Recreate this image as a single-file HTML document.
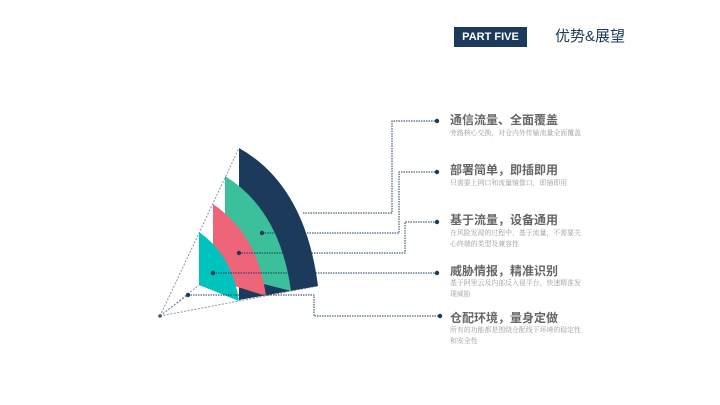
<!DOCTYPE html>
<html><head><meta charset="utf-8"><style>
body{margin:0;width:720px;height:405px;background:#fff;overflow:hidden;position:relative;font-family:"Liberation Sans","Noto Sans CJK SC",sans-serif}
.hd{position:absolute;left:454px;top:27px;width:73px;height:20px;background:#1b3a5c;color:#fff;font-size:11px;font-weight:bold;line-height:20px;text-align:center}
.h2{position:absolute;left:555px;top:27px;font-size:15px;color:#1b3a5c;line-height:20px}
.t{position:absolute;left:450px;font-size:12px;font-weight:bold;color:#666;line-height:14px;white-space:nowrap}
.d{position:absolute;left:450px;font-size:6.9px;color:#999;line-height:10.5px;width:133px;font-family:"Liberation Serif","Noto Serif CJK SC",serif}
</style></head><body>
<div class="hd">PART FIVE</div>
<div class="h2">优势&amp;展望</div>
<svg width="720" height="405" style="position:absolute;left:0;top:0">
<g stroke="#8a96a3" stroke-width="1" stroke-dasharray="2,1.5" fill="none">
<line x1="160" y1="316" x2="239" y2="148"/>
<line x1="160" y1="316" x2="318" y2="286"/>
<line x1="160" y1="316" x2="199" y2="285"/>
<line x1="160" y1="316" x2="188" y2="295"/>
</g>
<path d="M239,148 Q305,185 318,286 L239,300 Z" fill="#1b3a5c"/>
<path d="M225,176 Q280,210 291,291 L225,274 Z" fill="#3cbf9b"/>
<path d="M213,204 Q258,235 266,296 L213,279 Z" fill="#ee6479"/>
<path d="M199,232 Q232,255 239,301 L199,285 Z" fill="#00c3bd"/>
<g stroke="#1b3a5c" stroke-width="1" stroke-dasharray="1.5,1" fill="none">
<polyline points="303,213 392,213 392,121 437,121"/>
<polyline points="262,233 399,233 399,172 437,172"/>
<polyline points="239,253 405,253 405,222 437,222"/>
<polyline points="213,273 437,273"/>
<polyline points="188,295 314,295 314,316 440,316"/>
</g>
<g fill="#1b3a5c">
<circle cx="437" cy="121" r="2.2"/><circle cx="437" cy="172" r="2.2"/><circle cx="437" cy="222" r="2.2"/><circle cx="437" cy="273" r="2.2"/><circle cx="440" cy="316" r="2.2"/>
<circle cx="262" cy="233" r="2.2"/><circle cx="239" cy="253" r="2.2"/><circle cx="213" cy="273" r="2.2"/><circle cx="188" cy="295" r="2.2"/>
<circle cx="160" cy="316" r="1.8" fill="#555"/>
</g>
</svg>
<div class="t" style="top:113px">通信流量、全面覆盖</div>
<div class="d" style="top:129px">旁路核心交换，对仓内外传输流量全面覆盖</div>
<div class="t" style="top:163px">部署简单，即插即用</div>
<div class="d" style="top:179px">只需要上网口和流量镜像口，即插即用</div>
<div class="t" style="top:213px">基于流量，设备通用</div>
<div class="d" style="top:229px">在风险发现的过程中，基于流量，不需要关心终端的类型及兼容性</div>
<div class="t" style="top:264px">威胁情报，精准识别</div>
<div class="d" style="top:279px">基于阿里云及内部反入侵平台，快速精准发现威胁</div>
<div class="t" style="top:311px">仓配环境，量身定做</div>
<div class="d" style="top:326px">所有的功能都是围绕仓配线下环境的稳定性和安全性</div>
</body></html>
